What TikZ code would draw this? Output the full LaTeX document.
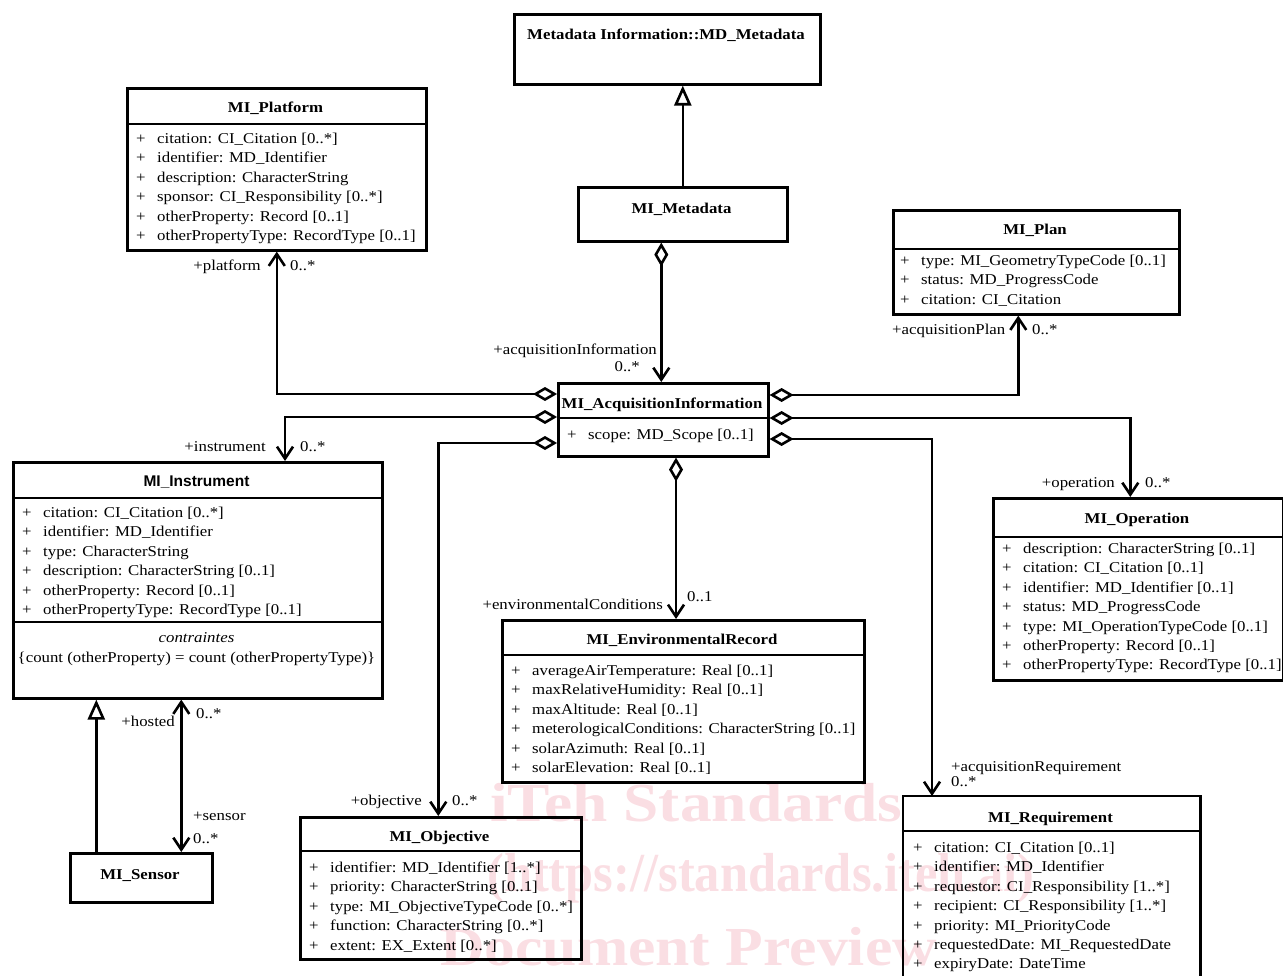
\documentclass[tikz,border=0pt]{standalone}
\usepackage{fontspec}
\usepackage{graphicx}
\setmainfont{Liberation Serif}[FakeStretch=1.12]
\newfontfamily\sansbf{Liberation Sans}
\usetikzlibrary{arrows.meta,calc}
\definecolor{wm}{RGB}{250,222,227}
\tikzset{
  cls/.style={draw, line width=2.6pt, inner sep=0pt, anchor=north west},
  sepline/.style={line width=2pt},
  ttl/.style={font=\fontsize{15}{18}\selectfont\bfseries, inner sep=0pt, anchor=base},
  attr/.style={font=\fontsize{15}{18}\selectfont, inner sep=0pt, anchor=base west},
  lbl/.style={font=\fontsize{15}{18}\selectfont, inner sep=0pt},
  wmark/.style={font=\fontsize{55}{60}\selectfont\bfseries, text=wm, inner sep=0pt, anchor=base west},
  agg/.style={line width=2.6pt, {Diamond[open,length=24pt,width=14pt]}-{Straight Barb[length=12pt,width=16pt]}},
  gen/.style={line width=2.6pt, -{Triangle[open,length=20pt,width=17pt]}},
  biassoc/.style={line width=2.6pt, {Straight Barb[length=12pt,width=16pt]}-{Straight Barb[length=12pt,width=16pt]}},
}
\newcommand\attrs[4]{%
  \foreach \txt [count=\i] in {#4} {
    \node[attr] (#1-a\i) at ({#2+10},{#3+5.5+19.4*(\i-1)}) {\makebox[21pt][l]{+}\txt};
  }%
}
\newcommand\sepat[2]{%
  \draw[sepline] ([yshift=-#2pt]#1.north west) -- ([yshift=-#2pt]#1.north east);%
}
\begin{document}
\begin{tikzpicture}[x=1pt,y=-1pt]
\useasboundingbox (0,0) rectangle (1283,976);

% watermark
\node[wmark] (wm1) at (490,821) {\scalebox{1.03}[1]{iTeh Standards}};
\node[wmark] (wm2) at (487,891) {\scalebox{0.82}[1]{(https://standards.iteh.ai)}};
\node[wmark] (wm3) at (440,965) {Document Preview};

% MD_Metadata
\node[cls, minimum width=306pt, minimum height=70pt] (md) at (513,13) {};
\node[ttl] (md-t) at (666,39.5) {Metadata Information::MD\_Metadata};

% MI_Metadata
\node[cls, minimum width=209pt, minimum height=54pt] (mim) at (577,186) {};
\node[ttl] (mim-t) at (681.5,213.5) {MI\_Metadata};

% MI_Platform
\node[cls, minimum width=299pt, minimum height=162pt] (plat) at (126,87) {};
\node[ttl] (plat-t) at (275.5,112.5) {MI\_Platform};
\sepat{plat}{37}
\attrs{plat}{126}{138}{citation: CI\_Citation [0..*], identifier: MD\_Identifier, description: CharacterString, sponsor: CI\_Responsibility [0..*], otherProperty: Record [0..1], otherPropertyType: RecordType [0..1]}

% MI_Plan
\node[cls, minimum width=286pt, minimum height=104pt] (plan) at (892,209) {};
\node[ttl] (plan-t) at (1035,234.5) {MI\_Plan};
\sepat{plan}{40}
\attrs{plan}{890}{260}{type: MI\_GeometryTypeCode [0..1], status: MD\_ProgressCode, citation: CI\_Citation}

% MI_AcquisitionInformation
\node[cls, minimum width=210pt, minimum height=73pt] (acq) at (557,382) {};
\node[ttl] (acq-t) at (662,408.5) {MI\_AcquisitionInformation};
\sepat{acq}{36}
\attrs{acq}{557}{434}{scope: MD\_Scope [0..1]}

% MI_Instrument
\node[cls, minimum width=369pt, minimum height=236pt] (inst) at (12,461) {};
\node[ttl, font=\fontsize{15.5}{18}\selectfont\sansbf\bfseries] (inst-t) at (196.5,486.5) {MI\_Instrument};
\sepat{inst}{37}
\attrs{inst}{12}{512}{citation: CI\_Citation [0..*], identifier: MD\_Identifier, type: CharacterString, description: CharacterString [0..1], otherProperty: Record [0..1], otherPropertyType: RecordType [0..1]}
\sepat{inst}{161}
\node[lbl, anchor=base] (inst-c1) at (196.5,642.5) {\itshape contraintes};
\node[lbl, anchor=base] (inst-c2) at (196.5,662.5) {\{count (otherProperty) = count (otherPropertyType)\}};

% MI_Operation
\node[cls, minimum width=290pt, minimum height=182pt] (op) at (992,497) {};
\node[ttl] (op-t) at (1137,523.5) {MI\_Operation};
\sepat{op}{40}
\attrs{op}{992}{548}{description: CharacterString [0..1], citation: CI\_Citation [0..1], identifier: MD\_Identifier [0..1], status: MD\_ProgressCode, type: MI\_OperationTypeCode [0..1], otherProperty: Record [0..1], otherPropertyType: RecordType [0..1]}

% MI_EnvironmentalRecord
\node[cls, minimum width=362pt, minimum height=162pt] (env) at (501,619) {};
\node[ttl] (env-t) at (682,644.5) {MI\_EnvironmentalRecord};
\sepat{env}{36}
\attrs{env}{501}{670}{averageAirTemperature: Real [0..1], maxRelativeHumidity: Real [0..1], maxAltitude: Real [0..1], meterologicalConditions: CharacterString [0..1], solarAzimuth: Real [0..1], solarElevation: Real [0..1]}

% MI_Sensor
\node[cls, minimum width=142pt, minimum height=49pt] (sen) at (69,852) {};
\node[ttl] (sen-t) at (140,879.5) {MI\_Sensor};

% MI_Objective
\node[cls, minimum width=281pt, minimum height=142pt] (obj) at (299,816) {};
\node[ttl] (obj-t) at (439.5,841.5) {MI\_Objective};
\sepat{obj}{35}
\attrs{obj}{299}{867}{identifier: MD\_Identifier [1..*], priority: CharacterString [0..1], type: MI\_ObjectiveTypeCode [0..*], function: CharacterString [0..*], extent: EX\_Extent [0..*]}

% MI_Requirement (runs past the bottom edge)
\node[cls, draw=none, minimum width=295pt, minimum height=184pt] (req) at (903,796) {};
\draw[line width=2.6pt] (req.south west) -- (req.north west) -- (req.north east) -- (req.south east);
\node[ttl] (req-t) at (1050.5,822.5) {MI\_Requirement};
\sepat{req}{35}
\attrs{req}{903}{847}{citation: CI\_Citation [0..1], identifier: MD\_Identifier, requestor: CI\_Responsibility [1..*], recipient: CI\_Responsibility [1..*], priority: MI\_PriorityCode, requestedDate: MI\_RequestedDate, expiryDate: DateTime}

% connectors
\draw[gen] (mim.north) -- (mim.north |- md.south);
\draw[agg] ([xshift=-21.5pt]mim.south) coordinate (m1) -- (m1 |- acq.north);
\draw[agg] ([yshift=-12pt]acq.north west) -| (plat.south);
\draw[agg] ([yshift=-35pt]acq.north west) -| ([xshift=273pt]inst.north west);
\draw[agg] ([yshift=-61pt]acq.north west) -| ([xshift=-2.5pt]obj.north);
\draw[agg] ([xshift=119pt]acq.south west) coordinate (e1) -- (e1 |- env.north);
\draw[agg] ([yshift=-13pt]acq.north east) -| ([xshift=-18pt]plan.south);
\draw[agg] ([yshift=-36pt]acq.north east) -| ([xshift=-8pt]op.north);
\draw[agg] ([yshift=-57pt]acq.north east) -| ([xshift=29pt]req.north west);
\draw[gen] ([xshift=-45pt]sen.north) coordinate (s1) -- (s1 |- inst.south);
\draw[biassoc] ([xshift=40pt]sen.north) coordinate (s2) -- (s2 |- inst.south);

% role labels and multiplicities
\node[lbl, anchor=base east] (l-plat) at (261,271) {+platform};
\node[lbl, anchor=base west] (m-plat) at (290,271) {0..*};
\node[lbl, anchor=base east] (l-acq) at (657,355) {+acquisitionInformation};
\node[lbl, anchor=base east] (m-acq) at (640,372) {0..*};
\node[lbl, anchor=base west] (l-plan) at (892,335) {+acquisitionPlan};
\node[lbl, anchor=base west] (m-plan) at (1032,335) {0..*};
\node[lbl, anchor=base east] (l-inst) at (266,451) {+instrument};
\node[lbl, anchor=base west] (m-inst) at (300,451) {0..*};
\node[lbl, anchor=base east] (l-op) at (1115,487) {+operation};
\node[lbl, anchor=base west] (m-op) at (1145,487) {0..*};
\node[lbl, anchor=base east] (l-env) at (663,609) {+environmentalConditions};
\node[lbl, anchor=base west] (m-env) at (687,601) {0..1};
\node[lbl, anchor=base east] (l-host) at (175,726) {+hosted};
\node[lbl, anchor=base west] (m-host) at (196,718) {0..*};
\node[lbl, anchor=base west] (l-sen) at (193,820) {+sensor};
\node[lbl, anchor=base west] (m-sen) at (193,843) {0..*};
\node[lbl, anchor=base east] (l-obj) at (422,805) {+objective};
\node[lbl, anchor=base west] (m-obj) at (452,805) {0..*};
\node[lbl, anchor=base west] (l-req) at (951,771) {+acquisitionRequirement};
\node[lbl, anchor=base west] (m-req) at (951,786) {0..*};
\end{tikzpicture}
\end{document}
